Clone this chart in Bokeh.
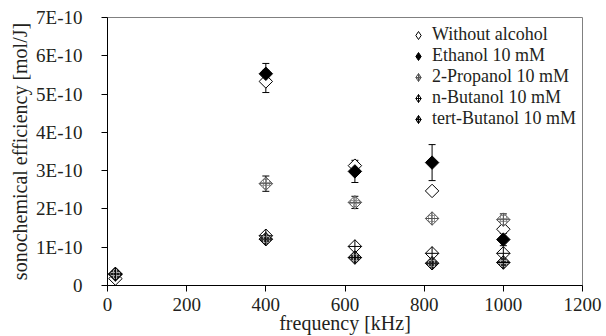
import math
from bokeh.plotting import figure
from bokeh.models import (ColumnDataSource, Whisker, TeeHead, FixedTicker,
                          CustomJSTickFormatter, Range1d)
from bokeh.embed import file_html
from bokeh.resources import INLINE

# ---- data ----
freq = [20, 400, 625, 820, 1000]
series_names = ["Without alcohol", "Ethanol 10 mM", "2-Propanol 10 mM",
                "n-Butanol 10 mM", "tert-Butanol 10 mM"]
without = [0.18e-10, 5.33e-10, 3.13e-10, 2.47e-10, 1.47e-10]
without_err = [0.02e-10, 0.29e-10, 0.08e-10, 0.05e-10, 0.05e-10]
ethanol = [0.30e-10, 5.53e-10, 2.98e-10, 3.21e-10, 1.20e-10]
ethanol_err = [0.03e-10, 0.27e-10, 0.29e-10, 0.47e-10, 0.16e-10]
propanol = [0.28e-10, 2.66e-10, 2.17e-10, 1.75e-10, 1.72e-10]
propanol_err = [0.03e-10, 0.20e-10, 0.16e-10, 0.08e-10, 0.15e-10]
nbutanol = [0.30e-10, 1.30e-10, 1.02e-10, 0.84e-10, 0.84e-10]
nbutanol_err = [0.02e-10, 0.05e-10, 0.05e-10, 0.04e-10, 0.04e-10]
tbutanol = [0.30e-10, 1.21e-10, 0.73e-10, 0.58e-10, 0.60e-10]
tbutanol_err = [0.02e-10, 0.05e-10, 0.05e-10, 0.04e-10, 0.04e-10]
x_ticks = [0, 200, 400, 600, 800, 1000, 1200]
y_ticks = [0, 1e-10, 2e-10, 3e-10, 4e-10, 5e-10, 6e-10, 7e-10]

FONT = "Liberation Serif"
TXT = "#231f20"

p = figure(width=606, height=336, output_backend="svg", toolbar_location=None,
           x_range=Range1d(0, 1200), y_range=Range1d(0, 7e-10),
           min_border_left=107, min_border_right=24, min_border_top=17,
           min_border_bottom=51)
p.background_fill_color = "white"
p.border_fill_color = "white"
p.outline_line_color = "#808080"
p.xgrid.visible = False
p.ygrid.visible = False

p.axis.axis_line_color = "black"
p.axis.major_tick_line_color = "black"
p.axis.major_tick_out = 6
p.axis.major_tick_in = 0
p.axis.minor_tick_line_color = None
p.axis.major_label_text_color = TXT
p.axis.major_label_text_font_size = "19px"
p.axis.major_label_text_font = FONT
p.axis.axis_label_text_font = FONT
p.axis.axis_label_text_font_size = "20px"
p.axis.axis_label_text_font_style = "normal"
p.axis.axis_label_text_color = TXT

p.xaxis.ticker = FixedTicker(ticks=x_ticks)
p.yaxis.ticker = FixedTicker(ticks=y_ticks)
p.yaxis.formatter = CustomJSTickFormatter(
    code="return tick == 0 ? '0' : Math.round(tick*1e10) + 'E-10';")
p.xaxis.axis_label = "frequency [kHz]"
p.yaxis.axis_label = "sonochemical efficiency [mol/J]"
p.xaxis.major_label_standoff = 6
p.xaxis.axis_label_standoff = -2
p.yaxis.major_label_standoff = 19
p.yaxis.axis_label_standoff = 2

styles = [
    dict(fill_color="white", line_color="black"),
    dict(fill_color="black", line_color="black"),
    dict(fill_color="white", line_color="#555555",
         hatch_pattern="+", hatch_color="#9a9a9a", hatch_scale=3, hatch_weight=1),
    dict(fill_color="white", line_color="black"),
    dict(fill_color="#333333", line_color="black",
         hatch_pattern="+", hatch_color="#aaaaaa", hatch_scale=3, hatch_weight=1),
]
legend_markers = ["diamond", "diamond", "diamond_cross", "diamond_cross", "diamond_cross"]
plot_markers = ["square", "square", "square_x", "square_x", "square_x"]
values = [without, ethanol, propanol, nbutanol, tbutanol]
errors = [without_err, ethanol_err, propanol_err, nbutanol_err, tbutanol_err]

for name, vals, errs, st, lm, pm in zip(series_names, values, errors, styles,
                                        legend_markers, plot_markers):
    src = ColumnDataSource(dict(x=freq, y=vals,
                                lower=[v - e for v, e in zip(vals, errs)],
                                upper=[v + e for v, e in zip(vals, errs)]))
    w = Whisker(base="x", upper="upper", lower="lower", source=src,
                dimension="height", line_color="black", line_width=1,
                upper_head=TeeHead(size=7, line_color="black"),
                lower_head=TeeHead(size=7, line_color="black"))
    p.add_layout(w)
    p.scatter("x", "y", source=src, marker=lm, size=9, line_width=1,
              legend_label=name, **st)
    p.scatter("x", "y", source=src, marker=pm, size=9.5, angle=math.pi / 4,
              line_width=1, **st)

lg = p.legend[0]
lg.location = (301, 156)
lg.border_line_color = None
lg.background_fill_alpha = 0
lg.label_text_font = FONT
lg.label_text_font_size = "18px"
lg.label_text_color = TXT
lg.glyph_width = 20
lg.glyph_height = 20
lg.label_height = 20
lg.label_standoff = 4
lg.spacing = 0
lg.padding = 4
lg.margin = 0

open("out.html", "w").write(file_html(p, INLINE))
